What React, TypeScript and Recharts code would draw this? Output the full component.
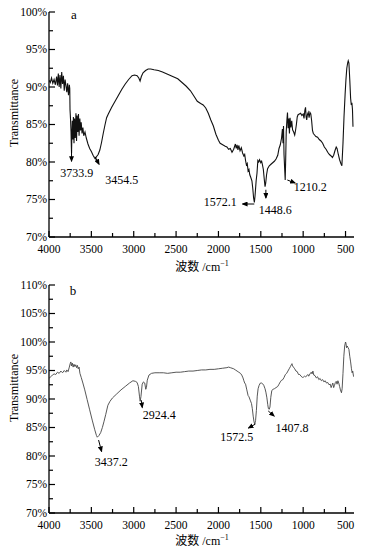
import React from 'react';
import { LineChart, Line, XAxis, YAxis, ReferenceLine, ReferenceDot } from 'recharts';

// ---------- Panel a data ----------
const wavenumbersA = [
  4000, 3985, 3970, 3955, 3940, 3925, 3910, 3900, 3890, 3880, 3870, 3860, 3850, 3840, 3830, 3820, 3810, 3800, 3790, 3780,
  3770, 3760, 3755, 3752, 3745, 3740, 3736, 3734, 3730, 3725, 3718, 3712, 3705, 3698, 3690, 3682, 3675, 3668, 3660, 3652,
  3645, 3636, 3628, 3620, 3610, 3600, 3590, 3575, 3560, 3540, 3520, 3500, 3480, 3460, 3454, 3440, 3420, 3400, 3380, 3360,
  3340, 3320, 3300, 3260, 3220, 3180, 3140, 3100, 3060, 3020, 2990, 2960, 2940, 2925, 2910, 2890, 2860, 2830, 2800, 2760,
  2710, 2660, 2600, 2540, 2480, 2430, 2380, 2330, 2290, 2250, 2210, 2180, 2150, 2120, 2090, 2060, 2030, 2000, 1980, 1950,
  1920, 1900, 1880, 1860, 1840, 1820, 1800, 1790, 1780, 1770, 1760, 1745, 1730, 1715, 1700, 1690, 1680, 1670, 1660, 1650,
  1640, 1630, 1620, 1605, 1595, 1585, 1576, 1568, 1555, 1545, 1535, 1525, 1515, 1500, 1490, 1480, 1470, 1460, 1450, 1442,
  1432, 1420, 1400, 1380, 1360, 1340, 1320, 1300, 1285, 1270, 1255, 1245, 1238, 1232, 1226, 1218, 1212, 1206, 1200, 1192,
  1185, 1178, 1170, 1162, 1155, 1145, 1135, 1125, 1112, 1100, 1090, 1080, 1070, 1060, 1045, 1030, 1015, 1000, 990, 980,
  972, 965, 958, 950, 940, 930, 920, 910, 900, 890, 880, 865, 850, 830, 810, 790, 770, 750, 730, 710,
  690, 670, 655, 640, 625, 610, 600, 585, 570, 555, 543, 530, 518, 505, 495, 485, 475, 468, 460, 450,
  440, 432, 425, 418, 412,
];
const transmittanceA = [
  90.9, 90.6, 91.2, 90.5, 91.0, 90.3, 91.4, 90.2, 91.8, 90.0, 91.6, 89.8, 92.0, 90.4, 91.5, 89.5, 91.0, 90.2, 89.3, 90.5,
  88.9, 90.3, 89.8, 87.0, 85.5, 84.0, 82.0, 81.2, 83.5, 85.5, 83.0, 86.0, 82.5, 85.8, 83.2, 86.5, 82.8, 86.2, 84.0, 86.4,
  83.5, 85.8, 84.2, 85.3, 83.8, 84.6, 83.5, 84.0, 83.2, 82.4, 81.8, 81.4, 80.9, 80.5, 80.4, 80.7, 81.0, 81.6, 82.6, 83.8,
  84.9, 85.9, 86.4, 87.3, 88.1, 88.9, 89.7, 90.4, 91.0, 91.5, 91.6, 91.5, 91.2, 90.8, 91.4, 91.9, 92.2, 92.4, 92.4, 92.3,
  92.2, 92.0, 91.7, 91.4, 91.1, 90.6, 90.1, 89.5, 88.8, 88.1, 87.8, 87.6, 87.2, 86.5, 85.6, 84.8, 83.7, 82.9, 82.5, 82.3,
  82.1, 82.0, 81.7, 81.8, 81.3, 81.7, 82.4, 81.8, 82.3, 81.6, 82.2, 81.5, 81.9, 81.2, 80.8, 81.0, 80.2, 79.6, 79.8, 78.8,
  79.0, 78.3, 78.0, 77.5, 76.5, 75.2, 74.6, 75.5, 77.5, 78.5, 80.2, 80.0, 80.3, 79.9, 80.1, 79.6, 79.0, 77.8, 76.7, 77.2,
  78.3, 79.1, 79.5, 79.7, 79.9, 80.1, 80.4, 80.9, 81.8, 82.3, 83.2, 84.4, 82.5, 84.8, 81.0, 79.0, 77.6, 80.5, 84.0, 85.6,
  86.6, 84.5, 85.8, 83.8, 85.9, 84.6, 85.5, 84.3, 84.0, 83.6, 84.2, 85.0, 86.0, 86.3, 86.4, 86.5, 86.2, 86.4, 85.8, 86.9,
  87.3, 86.0, 85.6, 86.3, 86.6, 85.9, 86.6, 86.4, 85.5, 84.2, 83.8, 83.6, 83.4, 83.3, 83.0, 82.8, 82.5, 82.0, 81.7, 81.3,
  81.0, 80.8, 80.6, 80.9, 81.5, 82.0, 81.8, 81.0, 80.3, 79.8, 79.5, 82.5, 86.0, 89.0, 91.0, 92.5, 93.2, 93.5, 93.2, 91.0,
  88.5, 87.6, 87.9, 87.0, 84.7,
];

// ---------- Panel b data ----------
const wavenumbersB = [
  4000, 3980, 3960, 3940, 3920, 3900, 3880, 3860, 3840, 3820, 3800, 3790, 3775, 3760, 3750, 3742, 3735, 3725, 3715, 3705,
  3695, 3685, 3675, 3665, 3655, 3645, 3635, 3620, 3600, 3578, 3550, 3520, 3490, 3460, 3440, 3430, 3410, 3390, 3370, 3350,
  3330, 3305, 3280, 3250, 3200, 3150, 3100, 3050, 3010, 2980, 2960, 2945, 2932, 2924, 2915, 2900, 2885, 2870, 2858, 2850,
  2840, 2820, 2790, 2750, 2700, 2650, 2600, 2550, 2500, 2450, 2400, 2350, 2300, 2250, 2200, 2150, 2100, 2050, 2000, 1950,
  1900, 1880, 1860, 1840, 1820, 1800, 1780, 1760, 1740, 1725, 1710, 1700, 1690, 1680, 1665, 1650, 1640, 1625, 1610, 1600,
  1590, 1580, 1572, 1562, 1552, 1542, 1532, 1520, 1505, 1490, 1480, 1465, 1450, 1440, 1428, 1418, 1410, 1400, 1392, 1382,
  1370, 1355, 1340, 1320, 1300, 1285, 1270, 1255, 1240, 1225, 1210, 1195, 1180, 1165, 1150, 1140, 1132, 1125, 1115, 1100,
  1085, 1070, 1055, 1040, 1025, 1010, 1000, 985, 970, 955, 945, 935, 920, 905, 895, 885, 875, 860, 845, 830,
  815, 800, 785, 770, 755, 740, 725, 710, 695, 680, 670, 660, 650, 640, 630, 620, 610, 600, 590, 580,
  570, 560, 548, 540, 530, 520, 510, 500, 495, 488, 480, 470, 460, 450, 440, 430, 422, 415, 408, 403,
];
const transmittanceB = [
  93.6, 93.9, 94.2, 94.4, 94.3, 94.7, 94.5, 94.9, 94.6, 95.0, 94.7, 95.1, 94.8, 95.6, 96.2, 96.5, 95.8, 96.3, 95.6, 96.1,
  95.7, 96.0, 95.5, 95.9, 95.3, 95.6, 94.5, 93.8, 92.8, 91.6, 89.9, 88.1, 86.3, 84.6, 83.6, 83.3, 83.6, 84.1, 85.0, 86.1,
  87.3, 88.9, 89.6, 90.2, 90.9, 91.6, 92.2, 92.8, 93.2, 93.1, 92.9, 92.2, 90.5, 89.6, 90.4, 92.6, 93.0, 92.8, 91.7, 92.0,
  93.3, 94.2, 94.5, 94.6, 94.6, 94.6, 94.5, 94.6, 94.7, 94.7, 94.8, 94.9, 94.9, 95.0, 95.1, 95.1, 95.2, 95.2, 95.3, 95.4,
  95.5, 95.6, 95.5, 95.4, 95.3, 95.1, 94.9, 94.7, 94.5, 94.2, 93.7, 93.2, 92.8, 92.6, 91.6, 90.6, 90.4, 89.8, 89.2, 88.3,
  87.0, 86.0, 85.6, 86.2, 88.0, 90.5, 91.8, 92.4, 92.8, 92.8, 92.7, 92.4, 91.8, 91.2, 90.2, 89.0, 88.3, 88.2, 88.6, 90.3,
  91.5, 91.7, 91.8, 92.0, 92.2, 92.6, 93.0, 93.3, 93.4, 93.8, 94.3, 94.5, 94.9, 95.3, 95.7, 96.0, 96.2, 95.8, 95.6, 95.3,
  94.9, 94.8, 94.3, 94.3, 94.0, 93.8, 93.8, 94.0, 93.9, 94.1, 94.3, 94.0, 94.4, 94.7, 94.4, 94.9, 94.2, 94.1, 93.7, 93.9,
  93.4, 93.6, 93.2, 93.4, 93.0, 93.2, 92.8, 92.9, 92.5, 92.6, 92.0, 92.4, 92.8, 92.0, 92.4, 92.9, 93.1, 92.6, 93.2, 92.8,
  92.2, 91.6, 91.1, 91.8, 94.5, 97.5, 99.3, 100.0, 99.8, 99.0, 99.3, 99.0, 98.7, 97.5, 96.5, 95.3, 94.6, 94.9, 94.2, 93.9,
];

// ---------- Ticks ----------
const xTicks = [4000, 3750, 3500, 3250, 3000, 2750, 2500, 2250, 2000, 1750, 1500, 1250, 1000, 750, 500];
const yTicksA = [70, 72.5, 75, 77.5, 80, 82.5, 85, 87.5, 90, 92.5, 95, 97.5, 100];
const yTicksB = [70, 72.5, 75, 77.5, 80, 82.5, 85, 87.5, 90, 92.5, 95, 97.5, 100, 102.5, 105, 107.5, 110];

// ---------- Peak annotations (peak label, arrow start/end, label centre in data units) ----------
const peakLabelsA = ['3733.9', '3454.5', '1572.1', '1448.6', '1210.2'];
const arrowFromA = [[3734, 81.6], [3456, 80.7], [1577, 74.4], [1440, 76.3], [1187, 77.6]];
const arrowToA = [[3734, 80.1], [3409, 79.7], [1715, 74.4], [1440, 75.2], [1095, 77.2]];
const labelAtA = [[3673, 78.6], [3141, 77.7], [1979, 74.7], [1329, 73.7], [915, 76.7]];

const peakLabelsB = ['3437.2', '2924.4', '1572.5', '1407.8'];
const arrowFromB = [[3415, 82.8], [2911, 89.8], [1564, 85.6], [1412, 87.9]];
const arrowToB = [[3379, 80.8], [2899, 88.5], [1646, 84.9], [1342, 87.0]];
const labelAtB = [[3266, 79.0], [2700, 87.2], [1783, 83.3], [1131, 84.9]];

const dataA = wavenumbersA.map((w, i) => ({ w, v: transmittanceA[i] }));
const dataB = wavenumbersB.map((w, i) => ({ w, v: transmittanceB[i] }));

const SERIF = "'Liberation Serif', 'Times New Roman', serif";
const CJK = "'Noto Sans CJK SC', sans-serif";
const TICK_FS = 11.5;

const XTick = (props: any) => {
  const { x, y, payload } = props;
  const major = payload.value % 500 === 0;
  return (
    <g>
      <line x1={x} x2={x} y1={y} y2={y - (major ? 6 : 4)} stroke="#000" strokeWidth={1.2} />
      {major && (
        <text x={x} y={y + 15.5} textAnchor="middle" fontSize={TICK_FS} fontFamily={SERIF} fill="#000">
          {payload.value}
        </text>
      )}
    </g>
  );
};

const YTick = (props: any) => {
  const { x, y, payload } = props;
  const major = payload.value % 5 === 0;
  return (
    <g>
      <line x1={x} x2={x + (major ? 6 : 4)} y1={y} y2={y} stroke="#000" strokeWidth={1.2} />
      {major && (
        <text x={x - 2} y={y + 3.5} textAnchor="end" fontSize={TICK_FS} fontFamily={SERIF} fill="#000">
          {payload.value}%
        </text>
      )}
    </g>
  );
};

const arrowShape = (p: any) => (
  <line x1={p.x1} y1={p.y1} x2={p.x2} y2={p.y2} stroke="#000" strokeWidth={1} markerEnd="url(#peakArrow)" />
);

function Annotations(labels: string[], from: number[][], to: number[][], at: number[][]) {
  const out: any[] = [];
  labels.forEach((lab, i) => {
    out.push(
      <ReferenceLine
        key={'l' + i}
        segment={[{ x: from[i][0], y: from[i][1] }, { x: to[i][0], y: to[i][1] }]}
        stroke="#000"
        shape={arrowShape}
        ifOverflow="visible"
      />
    );
    out.push(
      <ReferenceDot
        key={'d' + i}
        x={at[i][0]}
        y={at[i][1]}
        r={0}
        fill="none"
        stroke="none"
        ifOverflow="visible"
        label={{ value: lab, position: 'center', fontSize: 12, fontFamily: SERIF, fill: '#000' }}
      />
    );
  });
  return out;
}

const XTitle = ({ top }: { top: number }) => (
  <div
    style={{
      position: 'absolute',
      left: 202,
      top,
      transform: 'translateX(-50%)',
      fontSize: 12,
      whiteSpace: 'nowrap',
      fontFamily: SERIF,
      lineHeight: '14px',
      color: '#000',
    }}
  >
    <span style={{ fontFamily: CJK }}>波数</span> /cm
    <span style={{ fontSize: 8, position: 'relative', top: -5 }}>−1</span>
  </div>
);

const YTitle = ({ cy }: { cy: number }) => (
  <div
    style={{
      position: 'absolute',
      left: 14,
      top: cy,
      transform: 'translate(-50%, -50%) rotate(-90deg)',
      fontSize: 12,
      whiteSpace: 'nowrap',
      fontFamily: SERIF,
      lineHeight: '14px',
      color: '#000',
    }}
  >
    Transmittance
  </div>
);

export default function App() {
  return (
    <div style={{ position: 'absolute', left: 0, top: 0, width: 371, height: 553, background: '#fff', overflow: 'hidden' }}>
      <svg width={0} height={0} style={{ position: 'absolute' }}>
        <defs>
          <marker id="peakArrow" markerWidth={6} markerHeight={5} refX={5} refY={2.5} orient="auto" markerUnits="userSpaceOnUse">
            <path d="M0,0 L6,2.5 L0,5 z" fill="#000" />
          </marker>
        </defs>
      </svg>

      <div style={{ position: 'absolute', left: 0, top: 0 }}>
        <LineChart width={371} height={275} data={dataA} margin={{ top: 12, right: 17, left: 0, bottom: 0 }}>
          <XAxis
            dataKey="w"
            type="number"
            domain={[400, 4000]}
            reversed
            allowDataOverflow
            ticks={xTicks}
            interval={0}
            tick={<XTick />}
            tickLine={false}
            tickSize={0}
            tickMargin={0}
            height={38}
            axisLine={{ stroke: '#000', strokeWidth: 1.3 }}
          />
          <YAxis
            type="number"
            domain={[70, 100]}
            allowDataOverflow
            ticks={yTicksA}
            interval={0}
            tick={<YTick />}
            tickLine={false}
            tickSize={0}
            tickMargin={0}
            width={49}
            axisLine={{ stroke: '#000', strokeWidth: 1.3 }}
          />
          <Line dataKey="v" type="linear" stroke="#111" strokeWidth={1.1} dot={false} isAnimationActive={false} />
          {Annotations(peakLabelsA, arrowFromA, arrowToA, labelAtA)}
        </LineChart>
      </div>

      <div style={{ position: 'absolute', left: 0, top: 275 }}>
        <LineChart width={371} height={278} data={dataB} margin={{ top: 10, right: 17, left: 0, bottom: 0 }}>
          <XAxis
            dataKey="w"
            type="number"
            domain={[400, 4000]}
            reversed
            allowDataOverflow
            ticks={xTicks}
            interval={0}
            tick={<XTick />}
            tickLine={false}
            tickSize={0}
            tickMargin={0}
            height={40}
            axisLine={{ stroke: '#000', strokeWidth: 1.3 }}
          />
          <YAxis
            type="number"
            domain={[70, 110]}
            allowDataOverflow
            ticks={yTicksB}
            interval={0}
            tick={<YTick />}
            tickLine={false}
            tickSize={0}
            tickMargin={0}
            width={49}
            axisLine={{ stroke: '#000', strokeWidth: 1.3 }}
          />
          <Line dataKey="v" type="linear" stroke="#444" strokeWidth={0.9} dot={false} isAnimationActive={false} />
          {Annotations(peakLabelsB, arrowFromB, arrowToB, labelAtB)}
        </LineChart>
      </div>

      <div style={{ position: 'absolute', left: 74, top: 15, transform: 'translate(-50%,-50%)', fontSize: 13, fontFamily: SERIF, lineHeight: '14px' }}>a</div>
      <div style={{ position: 'absolute', left: 73, top: 291, transform: 'translate(-50%,-50%)', fontSize: 13, fontFamily: SERIF, lineHeight: '14px' }}>b</div>

      <XTitle top={259} />
      <XTitle top={533} />
      <YTitle cy={113} />
      <YTitle cy={388} />
    </div>
  );
}
